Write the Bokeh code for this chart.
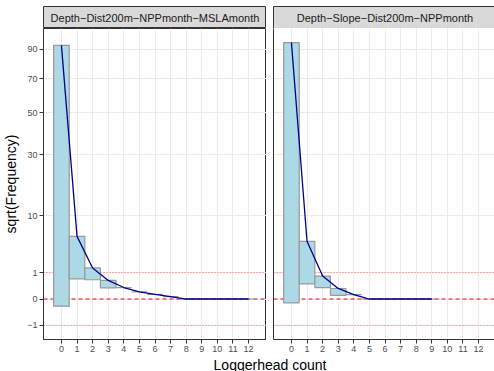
import numpy as np
from bokeh.plotting import figure
from bokeh.models import (Range1d, FixedTicker, CustomJSTickFormatter, Label, Span, LinearAxis)
from bokeh.layouts import row, column
from bokeh.embed import file_html
from bokeh.resources import INLINE

# ---------------- data ----------------
panel_titles = ["Depth\u2212Dist200m\u2212NPPmonth\u2212MSLAmonth", "Depth\u2212Slope\u2212Dist200m\u2212NPPmonth"]
counts_left = list(range(13))
expected_left = [92.7, 5.66, 1.39, 0.50, 0.19, 0.073, 0.032, 0.008, 0, 0, 0, 0, 0]
observed_left = [98.0, 2.6, 0.2, 0.08, 0, 0, 0, 0, 0, 0, 0, 0, 0]
counts_right = list(range(10))
expected_right = [94.7, 4.8, 0.76, 0.16, 0.029, 0, 0, 0, 0, 0]
observed_right = [97.6, 2.62, 0.19, 0.068, 0, 0, 0, 0, 0, 0]
y_tick_values = [-1, 0, 1, 10, 30, 50, 70, 90]
x_tick_values = list(range(13))
ref_lines = [-1, 0, 1]
x_title = "Loggerhead count"
y_title = "sqrt(Frequency)"

FONT = "Liberation Sans"
DARK = "#333333"


def ssqrt(a):
    a = np.asarray(a, dtype=float)
    return np.sign(a) * np.sqrt(np.abs(a))


# shared ranges (ggplot-like 5% expansion)
tops_all = np.concatenate([ssqrt(expected_left), ssqrt(expected_right)])
bots_all = np.concatenate([ssqrt(expected_left) - ssqrt(observed_left),
                           ssqrt(expected_right) - ssqrt(observed_right)])
ymin = min(bots_all.min(), ssqrt(min(ref_lines)))
ymax = max(tops_all.max(), ssqrt(max(ref_lines)))
yspan = ymax - ymin
Y0, Y1 = ymin - 0.05 * yspan, ymax + 0.05 * yspan
xmin, xmax = -0.5, max(x_tick_values) + 0.5
xspan = xmax - xmin
X0, X1 = xmin - 0.05 * xspan, xmax + 0.05 * xspan

FW1 = 223
FH = 311
LEFT1 = 43
GAP = 7
FW2 = 494 - LEFT1 - FW1 - GAP
X1_right = X0 + FW2 * (X1 - X0) / FW1

yfmt = CustomJSTickFormatter(code="""
const v = Math.round(Math.sign(tick)*tick*tick);
return v < 0 ? "\u2212" + (-v) : "" + v;
""")
blank = CustomJSTickFormatter(code="return '';")


def style_panel(p):
    p.background_fill_color = "white"
    p.border_fill_color = "white"
    p.xaxis.ticker = FixedTicker(ticks=x_tick_values)
    p.yaxis.ticker = FixedTicker(ticks=list(ssqrt(y_tick_values)))
    for g in (p.xgrid[0], p.ygrid[0]):
        g.grid_line_color = "#EBEBEB"
        g.grid_line_width = 1
    p.xaxis.major_tick_out = 4
    p.xaxis.major_tick_in = 0
    p.xaxis.minor_tick_out = 0
    p.xaxis.minor_tick_in = 0
    p.xaxis.major_tick_line_color = DARK
    p.xaxis.major_label_text_color = "#4D4D4D"
    p.xaxis.major_label_text_font = FONT
    p.xaxis.major_label_text_font_size = "9px"
    p.xaxis.major_label_standoff = 2
    p.xaxis.axis_line_color = DARK
    p.yaxis.axis_line_color = DARK


def add_marks(p, counts, expected, observed):
    c = np.asarray(counts, dtype=float)
    top = ssqrt(expected)
    bottom = top - ssqrt(observed)
    for v in ref_lines:
        if v == 0:
            sp = Span(location=float(ssqrt(v)), dimension="width", line_color="#FF0000",
                      line_width=1, line_dash="4 3", level="underlay")
        else:
            sp = Span(location=float(ssqrt(v)), dimension="width", line_color="#FF0000",
                      line_alpha=0.6, line_width=1, line_dash="1 2", level="underlay")
        p.add_layout(sp)
    p.quad(left=c - 0.5, right=c + 0.5, top=top, bottom=bottom,
           fill_color="#ADD8E6", line_color="#999999", line_width=1.2)
    p.line(c, top, line_color="#00008B", line_width=1.3)


# ---------------- left panel ----------------
p1 = figure(frame_width=FW1, frame_height=FH, x_range=Range1d(X0, X1), y_range=Range1d(Y0, Y1),
            output_backend="svg", toolbar_location=None,
            min_border_left=LEFT1, min_border_right=0, min_border_top=0, min_border_bottom=17)
style_panel(p1)
p1.outline_line_color = DARK
p1.outline_line_width = 1
p1.yaxis.formatter = yfmt
p1.yaxis.major_tick_out = 4
p1.yaxis.major_tick_in = 0
p1.yaxis.minor_tick_out = 0
p1.yaxis.minor_tick_in = 0
p1.yaxis.major_tick_line_color = DARK
p1.yaxis.major_label_text_color = "#4D4D4D"
p1.yaxis.major_label_text_font = FONT
p1.yaxis.major_label_text_font_size = "9px"
p1.yaxis.major_label_standoff = 2
p1.yaxis.axis_label = y_title
p1.yaxis.axis_label_text_font = FONT
p1.yaxis.axis_label_text_font_size = "14px"
p1.yaxis.axis_label_text_font_style = "normal"
p1.yaxis.axis_label_text_color = "black"
p1.yaxis.axis_label_standoff = 5
add_marks(p1, counts_left, expected_left, observed_left)

# ---------------- right panel ----------------
p2 = figure(frame_width=FW2, frame_height=FH, x_range=Range1d(X0, X1_right), y_range=Range1d(Y0, Y1),
            output_backend="svg", toolbar_location=None,
            min_border_left=GAP, min_border_right=0, min_border_top=0, min_border_bottom=17)
style_panel(p2)
p2.outline_line_color = None
p2.yaxis.formatter = blank
p2.yaxis.major_tick_out = 0
p2.yaxis.major_tick_in = 0
p2.yaxis.minor_tick_out = 0
p2.yaxis.minor_tick_in = 0
p2.yaxis.major_label_standoff = 0
add_marks(p2, counts_right, expected_right, observed_right)


# ---------------- strips ----------------
def make_strip(fw, left, x_end, title, closed):
    s = figure(frame_width=fw, frame_height=22, x_range=Range1d(X0, x_end), y_range=Range1d(0, 1),
               output_backend="svg", toolbar_location=None,
               x_axis_location=None, y_axis_location=None,
               min_border_left=left, min_border_right=0, min_border_top=6, min_border_bottom=0)
    s.background_fill_color = "#D9D9D9"
    s.border_fill_color = "white"
    s.xgrid.visible = False
    s.ygrid.visible = False
    if closed:
        s.outline_line_color = DARK
        s.outline_line_width = 1
    else:
        s.outline_line_color = None
        for place in ("left", "above", "below"):
            ax = LinearAxis(ticker=FixedTicker(ticks=[]), axis_line_color=DARK,
                            major_tick_out=0, major_tick_in=0, minor_tick_out=0, minor_tick_in=0,
                            major_label_standoff=0)
            s.add_layout(ax, place)
    s.add_layout(Label(x=(X0 + X1) / 2, y=0.5, text=title, text_align="center", text_baseline="middle",
                       text_font=FONT, text_font_size="11px", text_color="#1A1A1A"))
    return s


s1 = make_strip(FW1, LEFT1, X1, panel_titles[0], True)
s2 = make_strip(FW2, GAP, X1_right, panel_titles[1], False)

# ---------------- shared x title ----------------
xl = figure(width=494, height=15, x_range=Range1d(0, 494), y_range=Range1d(0, 15),
            output_backend="svg", toolbar_location=None,
            x_axis_location=None, y_axis_location=None, min_border=0)
xl.outline_line_color = None
xl.xgrid.visible = False
xl.ygrid.visible = False
xl.add_layout(Label(x=269.5, y=7, text=x_title, text_align="center", text_baseline="middle",
                    text_font=FONT, text_font_size="14px", text_color="black"))

layout = column(row(column(s1, p1), column(s2, p2)), xl)
open("out.html", "w").write(file_html(layout, INLINE))
